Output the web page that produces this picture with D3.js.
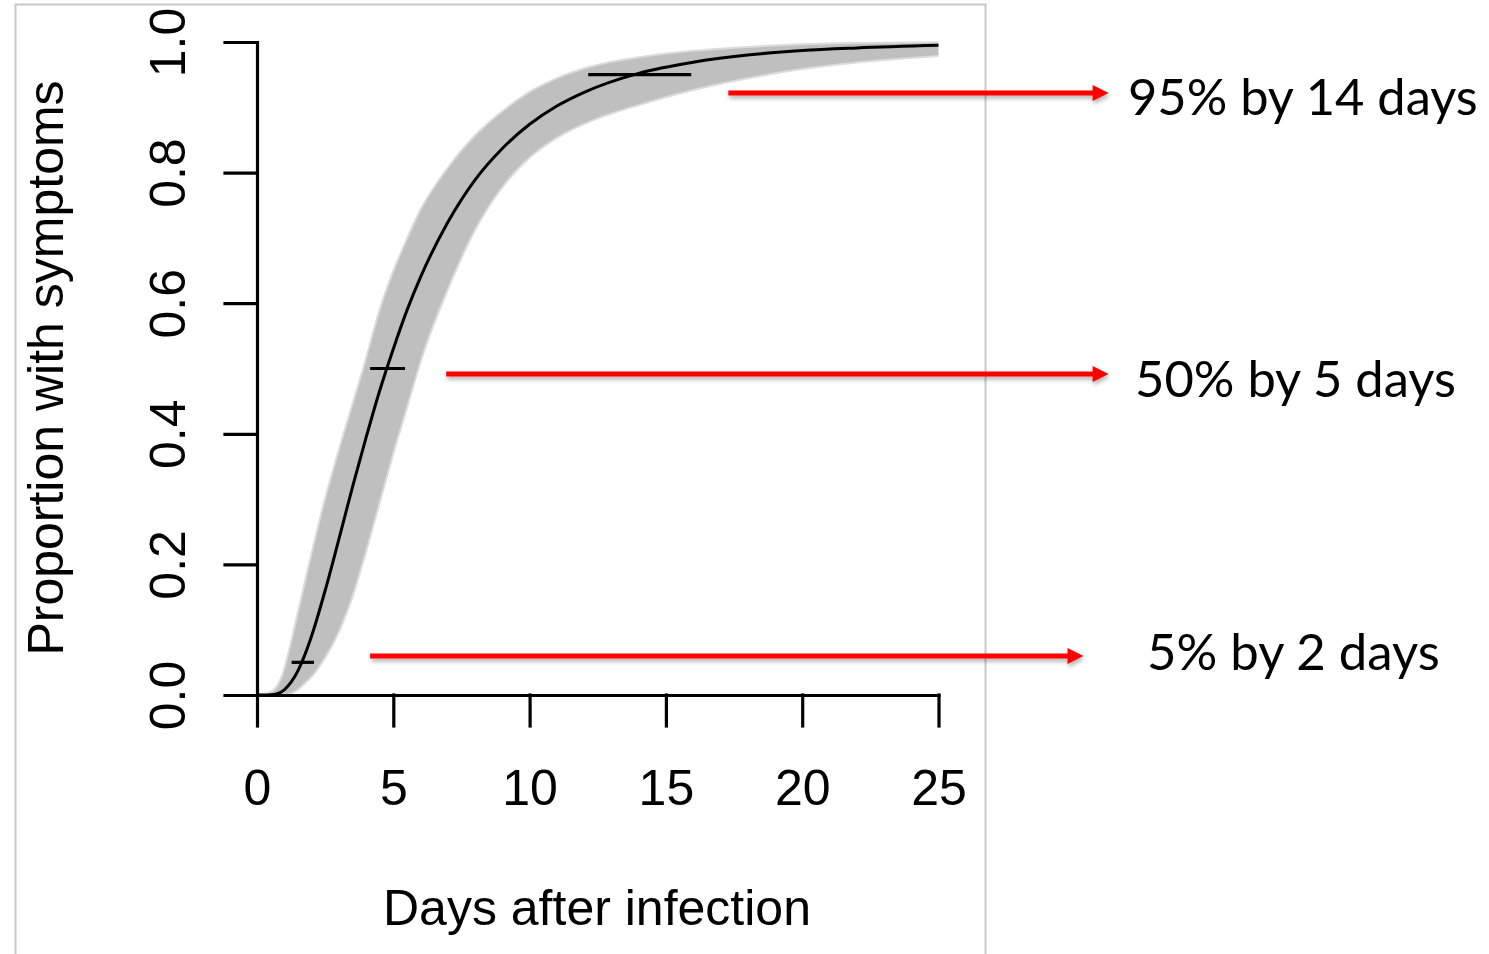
<!DOCTYPE html>
<html>
<head>
<meta charset="utf-8">
<script src="https://cdn.jsdelivr.net/npm/d3@7"></script>
<style>
  html, body { margin: 0; padding: 0; background: #fff; }
  svg { display: block; }
</style>
</head>
<body>
<div id="chart"></div>
<script>
// incubation curve
const days = [0, 0.25, 0.5, 0.75, 1, 1.25, 1.5, 1.75, 2, 2.5, 3, 3.5, 4, 4.5, 5, 5.5, 6, 7, 8, 9, 10, 11, 12, 14, 16, 18, 20, 22, 25];
const median = [0, 0, 0.0003, 0.002, 0.008, 0.0196, 0.037, 0.061, 0.09, 0.16, 0.238, 0.318, 0.394, 0.466, 0.53, 0.589, 0.64, 0.724, 0.789, 0.837, 0.874, 0.902, 0.923, 0.952, 0.969, 0.98, 0.987, 0.991, 0.995];
const upper = [0, 0, 0.003, 0.012, 0.035, 0.075, 0.12, 0.165, 0.21, 0.295, 0.37, 0.44, 0.51, 0.585, 0.645, 0.695, 0.74, 0.805, 0.855, 0.892, 0.922, 0.943, 0.958, 0.975, 0.985, 0.991, 0.995, 0.997, 0.998];
const lower = [0, 0, 0, 0, 0.001, 0.004, 0.01, 0.02, 0.03, 0.06, 0.1, 0.155, 0.225, 0.3, 0.375, 0.445, 0.515, 0.625, 0.715, 0.78, 0.825, 0.855, 0.876, 0.905, 0.928, 0.946, 0.96, 0.97, 0.98];

// horizontal marks on the curve
const markLevel = [0.05, 0.5, 0.95];
const markFrom = [1.27, 4.15, 12.15];
const markTo = [2.09, 5.43, 15.93];

// red call-outs
const noteLabels = ['95% by 14 days', '50% by 5 days', '5% by 2 days'];
const noteLevel = [0.922, 0.4916, 0.0597];
const noteFrom = [17.29, 6.94, 4.15];
const noteTo = [31.24, 31.24, 30.32];

const xTicks = [0, 5, 10, 15, 20, 25];
const yTicks = [0, 0.2, 0.4, 0.6, 0.8, 1.0];

const width = 1489, height = 954;
const axisFont = '"Liberation Sans", Arial, Helvetica, sans-serif';
const noteFont = 'Lato, "Open Sans", sans-serif';
const lw = 3.2;

const svg = d3.select('#chart').append('svg')
    .attr('width', width)
    .attr('height', height);

const x = d3.scaleLinear().domain([0, 25]).range([257, 938.5]);
const y = d3.scaleLinear().domain([0, 1]).range([695, 42]);

// light frame around the plot panel
svg.append('rect')
    .attr('x', 15.5).attr('y', 4.5)
    .attr('width', 970).attr('height', 970)
    .attr('fill', 'none')
    .attr('stroke', '#c8c8c8')
    .attr('stroke-width', 2);

const pts = days.map((d, i) => ({ day: d, mid: median[i], hi: upper[i], lo: lower[i] }));

// grey band of sampled curves
const edge = key => d3.line().x(d => x(d.day)).y(d => y(d[key])).curve(d3.curveMonotoneX);
svg.append('path').datum(pts)
    .attr('d', edge('hi'))
    .attr('fill', 'none').attr('stroke', '#dcdcdc').attr('stroke-width', 4);
svg.append('path').datum(pts)
    .attr('d', edge('lo'))
    .attr('fill', 'none').attr('stroke', '#dcdcdc').attr('stroke-width', 4);

svg.append('path').datum(pts)
    .attr('d', d3.area()
        .x(d => x(d.day))
        .y0(d => y(d.lo))
        .y1(d => y(d.hi))
        .curve(d3.curveMonotoneX))
    .attr('fill', '#bfbfbf');

// median curve
svg.append('path').datum(pts)
    .attr('d', edge('mid'))
    .attr('fill', 'none')
    .attr('stroke', '#000')
    .attr('stroke-width', 3);

// marks at 5%, 50%, 95%
svg.selectAll('line.mark')
    .data(markLevel)
    .enter()
    .append('line')
    .attr('class', 'mark')
    .attr('x1', (d, i) => x(markFrom[i]))
    .attr('x2', (d, i) => x(markTo[i]))
    .attr('y1', d => y(d))
    .attr('y2', d => y(d))
    .attr('stroke', '#000')
    .attr('stroke-width', lw);

// axes, R style
const xAxis = svg.append('g')
    .attr('transform', `translate(0,${y(0)})`)
    .call(d3.axisBottom(x).tickValues(xTicks).tickSize(31).tickSizeOuter(0));
xAxis.selectAll('text')
    .attr('y', 110)
    .attr('dy', null)
    .style('font-family', axisFont)
    .style('font-size', '50px')
    .attr('fill', '#000');

const yAxis = svg.append('g')
    .attr('transform', `translate(${x(0)},0)`)
    .call(d3.axisLeft(y).tickValues(yTicks).tickSize(32).tickSizeOuter(0).tickFormat(d3.format('.1f')));
yAxis.selectAll('text')
    .attr('x', null)
    .attr('dy', null)
    .attr('text-anchor', 'middle')
    .attr('transform', 'translate(-72,0) rotate(-90)')
    .style('font-family', axisFont)
    .style('font-size', '50px')
    .attr('fill', '#000');

svg.selectAll('.domain, .tick line')
    .attr('stroke', '#000')
    .attr('stroke-width', lw)
    .attr('stroke-linecap', 'square');

// axis titles
svg.append('text')
    .attr('x', 597).attr('y', 925)
    .attr('text-anchor', 'middle')
    .style('font-family', axisFont)
    .style('font-size', '50px')
    .text('Days after infection');

svg.append('text')
    .attr('transform', 'translate(63,368) rotate(-90)')
    .attr('text-anchor', 'middle')
    .style('font-family', axisFont)
    .style('font-size', '50px')
    .text('Proportion with symptoms');

// red arrows with a soft shadow
const defs = svg.append('defs');
const shadow = defs.append('filter').attr('id', 'shadow')
    .attr('x', '-5%').attr('y', '-100%').attr('width', '110%').attr('height', '300%');
shadow.append('feDropShadow')
    .attr('dx', 1).attr('dy', 3)
    .attr('stdDeviation', 2)
    .attr('flood-color', '#000')
    .attr('flood-opacity', 0.3);

const notes = svg.selectAll('g.note')
    .data(noteLabels)
    .enter()
    .append('g')
    .attr('class', 'note')
    .attr('filter', 'url(#shadow)');

notes.append('line')
    .attr('x1', (d, i) => x(noteFrom[i]))
    .attr('x2', (d, i) => x(noteTo[i]) - 10)
    .attr('y1', (d, i) => y(noteLevel[i]))
    .attr('y2', (d, i) => y(noteLevel[i]))
    .attr('stroke', '#ff0000')
    .attr('stroke-width', 5);

notes.append('path')
    .attr('d', (d, i) => {
        const tx = x(noteTo[i]), ty = y(noteLevel[i]);
        return `M${tx},${ty} L${tx - 16},${ty - 8} L${tx - 16},${ty + 8} Z`;
    })
    .attr('fill', '#ff0000');

// call-out labels, fitted to the width they take in the picture
const noteX = [1128, 1135, 1147];
const noteY = [115, 397, 670];
const noteW = [350, 321, 293];
svg.selectAll('text.note')
    .data(noteLabels)
    .enter()
    .append('text')
    .attr('class', 'note')
    .attr('x', (d, i) => noteX[i])
    .attr('y', (d, i) => noteY[i])
    .style('font-family', noteFont)
    .style('font-size', '52px')
    .attr('fill', '#000')
    .text(d => d)
    .each(function(d, i) {
        const w = this.getComputedTextLength();
        this.style.fontSize = (52 * noteW[i] / w).toFixed(1) + 'px';
    });
</script>
</body>
</html>
